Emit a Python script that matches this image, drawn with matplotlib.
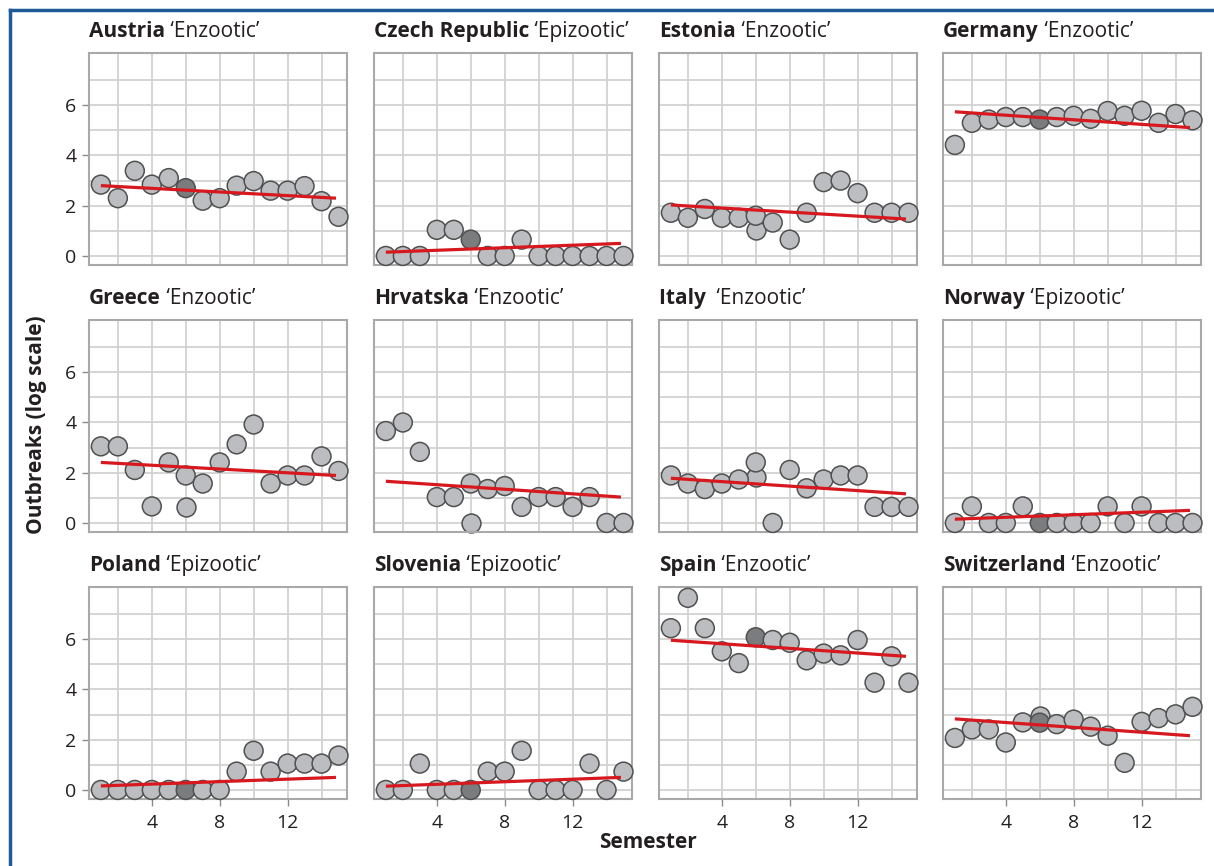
import matplotlib
matplotlib.use("Agg")
import matplotlib.pyplot as plt
from matplotlib.lines import Line2D

plt.rcParams["font.family"] = ["Open Sans", "DejaVu Sans"]

# ---------------------------------------------------------------------------
# Data (log outbreaks per semester)
# ---------------------------------------------------------------------------

SEMESTERS = list(range(1, 16))

COUNTRIES = ["Austria", "Czech Republic", "Estonia", "Germany",
             "Greece", "Hrvatska", "Italy ", "Norway",
             "Poland", "Slovenia", "Spain", "Switzerland"]
STATUS = ["Enzootic", "Epizootic", "Enzootic", "Enzootic",
          "Enzootic", "Enzootic", "Enzootic", "Epizootic",
          "Epizootic", "Epizootic", "Enzootic", "Enzootic"]

austria = [2.84, 2.3, 3.39, 2.84, 3.1, 2.7, 2.2, 2.3, 2.8, 2.98, 2.6, 2.6, 2.78, 2.18, 1.56]
czech = [0, 0, 0, 1.04, 1.04, 0.65, 0, 0, 0.65, 0, 0, 0, 0, 0, 0]
estonia = [1.72, 1.52, 1.87, 1.52, 1.52, 1.6, 1.33, 0.65, 1.72, 2.94, 3.0, 2.5, 1.72, 1.72, 1.72]
germany = [4.42, 5.3, 5.43, 5.53, 5.53, 5.43, 5.53, 5.58, 5.46, 5.77, 5.58, 5.78, 5.3, 5.65, 5.4]
greece = [3.05, 3.05, 2.11, 0.66, 2.41, 1.89, 1.57, 2.41, 3.13, 3.92, 1.57, 1.89, 1.89, 2.65, 2.07]
hrvatska = [3.66, 4.0, 2.83, 1.03, 1.03, 1.57, 1.35, 1.47, 0.64, 1.03, 1.03, 0.64, 1.03, 0, 0]
italy = [1.89, 1.57, 1.35, 1.57, 1.73, 2.41, 0, 2.11, 1.38, 1.73, 1.89, 1.89, 0.64, 0.64, 0.64]
norway = [0, 0.66, 0, 0, 0.66, 0, 0, 0, 0, 0.66, 0, 0.66, 0, 0, 0]
poland = [0, 0, 0, 0, 0, 0, 0, 0, 0.73, 1.56, 0.73, 1.05, 1.05, 1.05, 1.37]
slovenia = [0, 0, 1.05, 0, 0, 0, 0.73, 0.73, 1.56, 0, 0, 0, 1.05, 0, 0.73]
spain = [6.44, 7.65, 6.44, 5.52, 5.05, 6.08, 5.97, 5.86, 5.16, 5.43, 5.36, 5.97, 4.27, 5.32, 4.27]
switzerland = [2.07, 2.41, 2.41, 1.89, 2.69, 2.68, 2.62, 2.8, 2.52, 2.16, 1.08, 2.71, 2.86, 3.01, 3.31]

SERIES = [austria, czech, estonia, germany, greece, hrvatska,
          italy, norway, poland, slovenia, spain, switzerland]

# second observation drawn at semester 6 (None = only one point)
extra_s6 = [None, None, 1.05, None, 0.64, 0, 1.83, None, None, None, None, 2.95]
# the semester-6 point drawn in dark grey
dark_s6 = [True, True, False, True, False, False, False, True, True, True, True, True]

# fitted trend, value at first and last semester
trend_start = [2.8, 0.15, 2.03, 5.74, 2.41, 1.66, 1.78, 0.15, 0.16, 0.15, 5.96, 2.83]
trend_end = [2.3, 0.5, 1.47, 5.11, 1.89, 1.03, 1.16, 0.5, 0.5, 0.5, 5.32, 2.16]

# ---------------------------------------------------------------------------
# Plot
# ---------------------------------------------------------------------------

W, H = 1214, 866
fig = plt.figure(figsize=(W / 100, H / 100), dpi=100)

LIGHT = "#bcbdc0"
DARK = "#7b7c7e"
EDGE = "#505050"
RED = "#d7191f"
GRID = "#d2d2d2"
TEXT = "#231f20"

col_left = [89, 374, 659, 943]
row_top = [53, 320, 587]
pw, ph = 258, 212

for i, (name, status, vals) in enumerate(zip(COUNTRIES, STATUS, SERIES)):
    r, c = divmod(i, 4)
    ax = fig.add_axes([col_left[c] / W, 1 - (row_top[r] + ph) / H, pw / W, ph / H])
    ax.set_xlim(0.3, 15.5)
    ax.set_ylim(-0.36, 8.08)

    for gx in range(2, 15, 2):
        ax.axvline(gx, color=GRID, lw=1.3, zorder=0)
    for gy in range(0, 8):
        ax.axhline(gy, color=GRID, lw=1.3, zorder=0)

    colors = [DARK if (s == 6 and dark_s6[i]) else LIGHT for s in SEMESTERS]
    ax.scatter(SEMESTERS, vals, s=185, c=colors, edgecolors=EDGE,
               linewidths=1.1, zorder=3, clip_on=False)
    if extra_s6[i] is not None:
        ax.scatter([6], [extra_s6[i]], s=185, c=LIGHT, edgecolors=EDGE,
                   linewidths=1.1, zorder=2, clip_on=False)

    ax.plot([SEMESTERS[0], SEMESTERS[-1] - 0.15], [trend_start[i], trend_end[i]],
            color=RED, lw=2.3, zorder=4, solid_capstyle="butt")

    for sp in ax.spines.values():
        sp.set_color("#a9a9a9")
        sp.set_linewidth(1.5)

    if c == 0:
        ax.set_yticks([0, 2, 4, 6])
        ax.tick_params(axis="y", length=5, width=1, color="#8a8a8a",
                       labelsize=14, labelcolor=TEXT, pad=4)
    else:
        ax.set_yticks([])
    if r == 2:
        ax.set_xticks([4, 8, 12])
        ax.tick_params(axis="x", length=5, width=1, color="#8a8a8a",
                       labelsize=14, labelcolor=TEXT, pad=6)
    else:
        ax.set_xticks([])

    t = ax.text(0, 1 + 11 / ph, name, transform=ax.transAxes, fontsize=15,
                fontweight="bold", color=TEXT, va="bottom", ha="left")
    ax.annotate(" \u2018" + status + "\u2019", xy=(1, 0), xycoords=t,
                fontsize=15, color=TEXT, va="bottom", ha="left")

fig.text(37 / W, 1 - 425 / H, "Outbreaks (log scale)", rotation=90,
         fontsize=15, fontweight="bold", color=TEXT, ha="center", va="center")
fig.text(648 / W, 1 - 843 / H, "Semester", fontsize=15, fontweight="bold",
         color=TEXT, ha="center", va="center")

# frame of the original figure box
fig.add_artist(Line2D([10 / W, 10 / W], [0, 1 - 10 / H], color="#1d5b98", lw=2.5))
fig.add_artist(Line2D([10 / W, 1], [1 - 10 / H, 1 - 10 / H], color="#1d5b98", lw=2.5))

fig.savefig("out.png", dpi=100)
